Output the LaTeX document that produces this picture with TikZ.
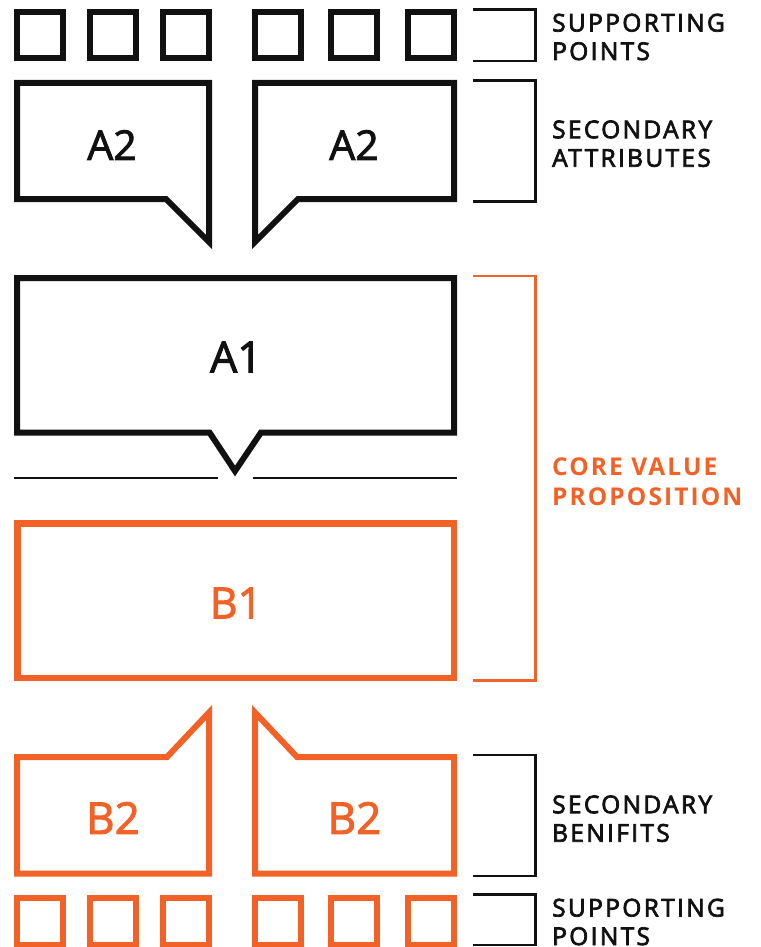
\documentclass[tikz,border=0pt]{standalone}
\usepackage{fontspec}
\setmainfont{Open Sans}
\newfontfamily\labfont[LetterSpace=9.5,FakeBold=3]{Open Sans}
\newfontfamily\corefont[LetterSpace=8.5]{Open Sans}
\newfontfamily\bigfont[FakeBold=2.2]{Open Sans}
\definecolor{orng}{RGB}{242,97,37}
\definecolor{ink}{RGB}{17,17,17}
\begin{document}
\begin{tikzpicture}[x=1pt,y=-1pt,
  box/.style={line width=6pt,ink,line join=miter},
  obox/.style={line width=6pt,orng,line join=miter},
  brk/.style={line width=2.2pt,ink},
  obrk/.style={line width=2.5pt,orng},
  lab/.style={anchor=base west,inner sep=0pt,align=left,ink,font=\labfont\fontsize{24.5}{28.5}\selectfont},
  corelab/.style={anchor=base west,inner sep=0pt,align=left,orng,font=\corefont\bfseries\fontsize{24.5}{29.5}\selectfont},
  big/.style={inner sep=0pt,font=\bigfont\fontsize{43}{48}\selectfont},
]
\useasboundingbox (0,0) rectangle (760,947);
% top supporting squares
\foreach \x in {17,90,163,255,331,408}{
  \draw[box] (\x,12) rectangle ++(46,46.5);
}
% A2 left
\draw[box] (17,83) -- (209,83) -- (209,242) -- (166,199) -- (17,199) -- cycle;
% A2 right
\draw[box] (255,83) -- (454,83) -- (454,199) -- (298,199) -- (255,242) -- cycle;
\node[big,ink,font=\bigfont\fontsize{41}{46}\selectfont] (a2l) at (112,145) {A2};
\node[big,ink,font=\bigfont\fontsize{41}{46}\selectfont] (a2r) at (354,145) {A2};
% A1
\draw[box] (17,278) -- (454,278) -- (454,432.5) -- (261,432.5) -- (235,471) -- (209.5,432.5) -- (17,432.5) -- cycle;
\node[big,ink] (a1) at (236,357) {A1};
% separator lines
\coordinate (l1a) at (14,478); \coordinate (l1b) at (217.5,478);
\coordinate (l2a) at (253,478); \coordinate (l2b) at (457,478);
\draw[line width=2.8pt,ink] (l1a) -- (l1b);
\draw[line width=2.8pt,ink] (l2a) -- (l2b);
% B1
\draw[obox,line width=6.5pt] (17.25,523.25) rectangle (453.75,677.75);
\node[big,orng] (b1) at (236,603) {B1};
% B2 left
\draw[obox] (17,757) -- (167,757) -- (209,712.5) -- (209,873.5) -- (17,873.5) -- cycle;
% B2 right
\draw[obox] (255,712.5) -- (297,757) -- (454,757) -- (454,873.5) -- (255,873.5) -- cycle;
\node[big,orng,font=\bigfont\fontsize{44}{48}\selectfont] (b2l) at (113,818) {B2};
\node[big,orng,font=\bigfont\fontsize{44}{48}\selectfont] (b2r) at (354.5,818) {B2};
% bottom supporting squares
\foreach \x in {17,90,163,255,331,408}{
  \draw[obox] (\x,898) rectangle ++(46,46.5);
}
% brackets
\draw[brk] (473,9.5) -- (535.5,9.5) -- (535.5,61) -- (473,61);
\draw[brk] (473,80.5) -- (535.5,80.5) -- (535.5,201.5) -- (473,201.5);
\draw[obrk] (473,276) -- (535.5,276) -- (535.5,680.5) -- (473,680.5);
\draw[brk] (473,755) -- (535.5,755) -- (535.5,876) -- (473,876);
\draw[brk] (473,894.5) -- (535.5,894.5) -- (535.5,945) -- (473,945);
% labels
\node[lab] (sp1) at (552,60) {SUPPORTING\\POINTS};
\node[lab] (sa) at (552,166.7) {SECONDARY\\ATTRIBUTES};
\node[corelab] (cvp) at (552,505) {CORE VALUE\\PROPOSITION};
\node[lab] (sb) at (552,841.7) {SECONDARY\\BENIFITS};
\node[lab] (sp2) at (552,945) {SUPPORTING\\POINTS};
\end{tikzpicture}
\end{document}
